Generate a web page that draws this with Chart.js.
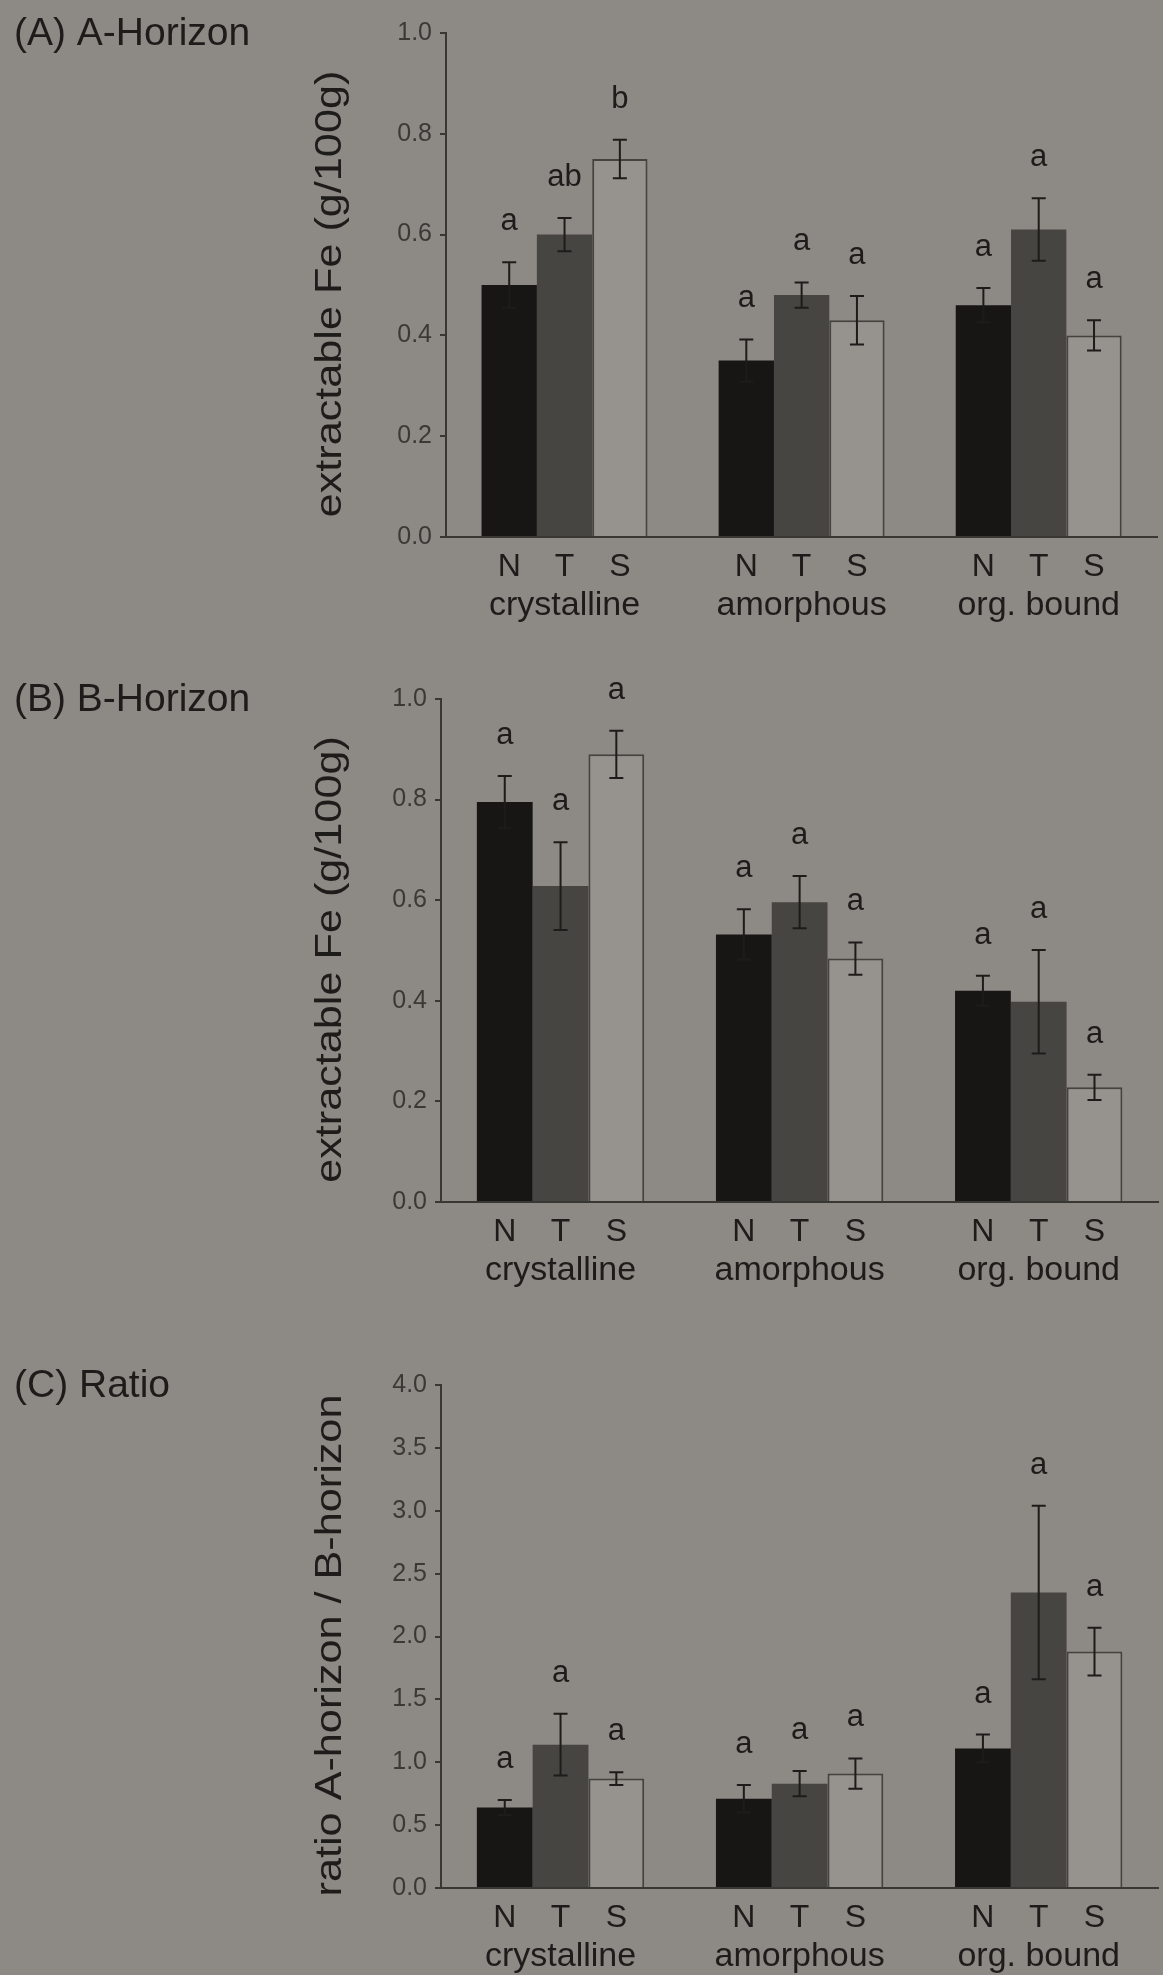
<!DOCTYPE html>
<html>
<head>
<meta charset="utf-8">
<title>Extractable Fe by horizon</title>
<script src="https://cdn.jsdelivr.net/npm/chart.js@4.4.1/dist/chart.umd.min.js"></script>
<style>
  html, body { margin: 0; padding: 0; background: #8d8985; overflow: hidden; }
  #wrap { position: relative; width: 1163px; height: 1975px; overflow: hidden; }
  canvas { position: absolute; left: 0; }
</style>
</head>
<body>
<div id="wrap">
  <canvas id="panelA" width="1168" height="640" style="top:0px"></canvas>
  <canvas id="panelB" width="1168" height="660" style="top:640px"></canvas>
  <canvas id="panelC" width="1168" height="675" style="top:1300px"></canvas>
</div>
<script>
const fractions = ['crystalline', 'amorphous', 'org. bound'];
const treatments = ['N', 'T', 'S'];

// (A) A-horizon, extractable Fe in g/100g
const aN = [0.50, 0.35, 0.46];
const aT = [0.60, 0.48, 0.61];
const aS = [0.75, 0.43, 0.40];
const aNErr = [0.045, 0.042, 0.034];
const aTErr = [0.033, 0.025, 0.062];
const aSErr = [0.038, 0.048, 0.030];
const aNSig = ['a', 'a', 'a'];
const aTSig = ['ab', 'a', 'a'];
const aSSig = ['b', 'a', 'a'];

// (B) B-horizon, extractable Fe in g/100g
const bN = [0.795, 0.532, 0.42];
const bT = [0.628, 0.596, 0.398];
const bS = [0.89, 0.484, 0.228];
const bNErr = [0.052, 0.050, 0.030];
const bTErr = [0.087, 0.052, 0.103];
const bSErr = [0.047, 0.032, 0.025];
const bNSig = ['a', 'a', 'a'];
const bTSig = ['a', 'a', 'a'];
const bSSig = ['a', 'a', 'a'];

// (C) ratio A-horizon / B-horizon
const cN = [0.64, 0.71, 1.11];
const cT = [1.14, 0.83, 2.35];
const cS = [0.87, 0.91, 1.88];
const cNErr = [0.06, 0.11, 0.11];
const cTErr = [0.245, 0.10, 0.69];
const cSErr = [0.05, 0.12, 0.19];
const cNSig = ['a', 'a', 'a'];
const cTSig = ['a', 'a', 'a'];
const cSSig = ['a', 'a', 'a'];

const FONT = '"Liberation Sans", Arial, Helvetica, sans-serif';
const INK = '#1d1c1a';
const AXIS = '#393734';

// error bars, significance letters, N/T/S under each bar, panel and axis titles
const panelDecor = {
  id: 'panelDecor',
  afterDatasetsDraw(chart, args, opts) {
    const ctx = chart.ctx;
    const area = chart.chartArea;
    const yScale = chart.scales.y;
    ctx.save();
    chart.data.datasets.forEach((ds, i) => {
      const meta = chart.getDatasetMeta(i);
      meta.data.forEach((bar, j) => {
        const v = ds.data[j];
        const e = opts.errors[i][j];
        const top = yScale.getPixelForValue(v + e);
        const bot = yScale.getPixelForValue(v - e);
        ctx.strokeStyle = INK;
        ctx.lineWidth = 2;
        ctx.beginPath();
        ctx.moveTo(bar.x, top);
        ctx.lineTo(bar.x, bot);
        ctx.moveTo(bar.x - 7, top);
        ctx.lineTo(bar.x + 7, top);
        ctx.moveTo(bar.x - 7, bot);
        ctx.lineTo(bar.x + 7, bot);
        ctx.stroke();

        ctx.fillStyle = INK;
        ctx.textAlign = 'center';
        ctx.textBaseline = 'alphabetic';
        ctx.font = '31px ' + FONT;
        ctx.fillText(opts.letters[i][j], bar.x, top - 32);

        ctx.font = '32px ' + FONT;
        ctx.fillText(treatments[i], bar.x, area.bottom + 39);
      });
    });
    ctx.restore();
  },
  afterDraw(chart, args, opts) {
    const ctx = chart.ctx;
    const area = chart.chartArea;
    ctx.save();
    ctx.fillStyle = INK;
    ctx.font = '39px ' + FONT;
    ctx.textAlign = 'left';
    ctx.textBaseline = 'alphabetic';
    ctx.fillText(opts.title, 14, area.top + 12);

    // axis title, drawn a little wider than the font's natural proportions
    ctx.translate(331, (area.top + area.bottom) / 2 + 9);
    ctx.rotate(-Math.PI / 2);
    ctx.scale(1.2, 1);
    ctx.font = '36px ' + FONT;
    ctx.textAlign = 'center';
    ctx.textBaseline = 'middle';
    ctx.fillText(opts.yTitle, 0, 0);
    ctx.restore();
  }
};

function makePanel(id, cfg) {
  const canvas = document.getElementById(id);
  const h = canvas.height;
  return new Chart(canvas, {
    type: 'bar',
    data: {
      labels: fractions,
      datasets: [
        { label: 'N', data: cfg.n, backgroundColor: '#171614', borderWidth: 0 },
        { label: 'T', data: cfg.t, backgroundColor: '#464542', borderWidth: 0 },
        { label: 'S', data: cfg.s, backgroundColor: '#96928e', borderColor: '#45433f', borderWidth: 2 }
      ]
    },
    options: {
      responsive: false,
      devicePixelRatio: 1,
      animation: false,
      layout: { padding: { top: cfg.top, left: 0, right: 0, bottom: 0 } },
      datasets: {
        bar: { categoryPercentage: 0.70, barPercentage: 1.0 }
      },
      plugins: {
        legend: { display: false },
        tooltip: { enabled: false },
        panelDecor: {
          title: cfg.title,
          yTitle: cfg.yTitle,
          errors: cfg.errors,
          letters: cfg.letters
        }
      },
      scales: {
        x: {
          grid: { display: false, drawTicks: false },
          border: { display: true, color: AXIS, width: 2 },
          ticks: {
            color: INK,
            padding: 48,
            font: { family: FONT, size: 34 }
          },
          afterFit(scale) { scale.height = h - cfg.bottom; }
        },
        y: {
          min: 0,
          max: cfg.max,
          grid: {
            display: true,
            drawOnChartArea: false,
            drawTicks: true,
            tickLength: 6,
            color: AXIS,
            lineWidth: 2
          },
          border: { display: true, color: AXIS, width: 2 },
          ticks: {
            stepSize: cfg.step,
            color: '#3b3936',
            padding: 8,
            font: { family: FONT, size: 25 },
            callback: (value) => value.toFixed(1)
          },
          afterFit(scale) { scale.width = cfg.left; }
        }
      }
    },
    plugins: [panelDecor]
  });
}

makePanel('panelA', {
  title: '(A) A-Horizon',
  yTitle: 'extractable Fe (g/100g)',
  n: aN, t: aT, s: aS,
  errors: [aNErr, aTErr, aSErr],
  letters: [aNSig, aTSig, aSSig],
  max: 1.0, step: 0.2,
  left: 446, top: 33, bottom: 537
});

makePanel('panelB', {
  title: '(B) B-Horizon',
  yTitle: 'extractable Fe (g/100g)',
  n: bN, t: bT, s: bS,
  errors: [bNErr, bTErr, bSErr],
  letters: [bNSig, bTSig, bSSig],
  max: 1.0, step: 0.2,
  left: 441, top: 59, bottom: 562
});

makePanel('panelC', {
  title: '(C) Ratio',
  yTitle: 'ratio A-horizon / B-horizon',
  n: cN, t: cT, s: cS,
  errors: [cNErr, cTErr, cSErr],
  letters: [cNSig, cTSig, cSSig],
  max: 4.0, step: 0.5,
  left: 441, top: 85, bottom: 588
});
</script>
</body>
</html>
